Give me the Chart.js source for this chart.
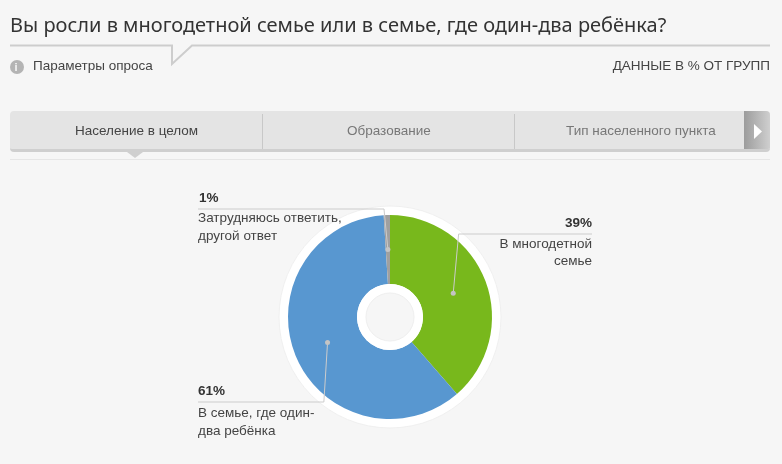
<!DOCTYPE html>
<html lang="ru">
<head>
<meta charset="utf-8">
<title>Опрос</title>
<script src="https://cdn.jsdelivr.net/npm/chart.js@4"></script>
<style>
  html, body { margin: 0; padding: 0; background: #f6f6f6; }
  body { position: relative; width: 782px; height: 464px; overflow: hidden; font-family: "Liberation Sans", Arial, sans-serif; color: #444; }
  #chart { position: absolute; left: 0; top: 0; z-index: 0; }
  .t { position: absolute; z-index: 2; white-space: nowrap; font-size: 13.5px; line-height: 18px; }
  #title { left: 10px; top: 10px; font: 20px/30px "Noto Sans", sans-serif; color: #333; }
  #bar { position: absolute; z-index: 1; left: 10px; top: 111px; width: 760px; height: 38px; background: #e4e4e4; border-bottom: 3px solid #cfcfcf; border-radius: 4px; overflow: hidden; }
  #bar i { position: absolute; top: 3px; bottom: 0; width: 1px; background: #c8c8c8; }
  #next { position: absolute; right: 0; top: 0; bottom: -3px; width: 26px; background: linear-gradient(90deg, #9c9c9c, #cfcfcf); }
  #decor, #decor2 { position: absolute; left: 0; top: 0; z-index: 1; }
  .pct { font-weight: bold; color: #333; }
</style>
</head>
<body>
<svg id="decor" width="782" height="170">
  <path d="M10 45.5H172V64L192 45.5H770" fill="none" stroke="#cdcdcd" stroke-width="2"/>
  <circle cx="17" cy="67" r="7" fill="#b4b4b4"/>
  <rect x="10" y="159" width="760" height="1" fill="#e6e6e6"/>
</svg>
<div id="bar"><i style="left:252px"></i><i style="left:504px"></i><div id="next"></div></div>
<svg id="decor2" width="782" height="170">
  <path d="M127 152H143L135 158Z" fill="#cfcfcf"/>
  <path d="M754 124L762 131.500L754 139Z" fill="#fff"/>
</svg>
<div class="t" id="title">Вы росли в многодетной семье или в семье, где один-два ребёнка?</div>
<div class="t" style="left:14.500px;top:58px;font-size:11px;font-weight:bold;color:#f6f6f6">i</div>
<div class="t" style="left:33px;top:57px">Параметры опроса</div>
<div class="t" style="right:12px;top:57px">ДАННЫЕ В % ОТ ГРУПП</div>
<div class="t" style="left:75px;top:122px;color:#444">Население в целом</div>
<div class="t" style="left:347px;top:122px;color:#777">Образование</div>
<div class="t" style="left:566px;top:122px;color:#777">Тип населенного пункта</div>

<div class="t pct" style="left:199px;top:189px">1%</div>
<div class="t" style="left:198px;top:209px">Затрудняюсь ответить,</div>
<div class="t" style="left:198px;top:227px">другой ответ</div>

<div class="t pct" style="right:190px;top:214px">39%</div>
<div class="t" style="right:190px;top:235px">В многодетной</div>
<div class="t" style="right:190px;top:252px">семье</div>

<div class="t pct" style="left:198px;top:382px">61%</div>
<div class="t" style="left:198px;top:404px">В семье, где один-</div>
<div class="t" style="left:198px;top:422px">два ребёнка</div>

<canvas id="chart" width="782" height="464"></canvas>
<script>
// survey data, order is clockwise from 12 o'clock
const categories = ['В многодетной семье', 'В семье, где один-два ребёнка', 'Затрудняюсь ответить, другой ответ'];
const values = [39, 61, 1];
const colors = ['#78b81c', '#5897d0', '#a0a0a0'];

// leader lines: rule height and far end, relative to the pie centre
const ruleDy = [-83, 85, -108];
const ruleDx = [202, -192, -192];

const ringPlugin = {
  id: 'ring',
  beforeDatasetsDraw(chart) {
    const arc = chart.getDatasetMeta(0).data[0];
    const c = chart.ctx;
    c.save();
    c.beginPath();
    c.arc(arc.x, arc.y, arc.outerRadius + 9, 0, Math.PI * 2);
    c.fillStyle = '#fff';
    c.strokeStyle = '#efefef';
    c.fill();
    c.stroke();
    c.restore();
  },
  afterDatasetsDraw(chart) {
    const meta = chart.getDatasetMeta(0);
    const c = chart.ctx;
    const first = meta.data[0];
    c.save();

    // donut hole
    c.beginPath();
    c.arc(first.x, first.y, first.innerRadius, 0, Math.PI * 2);
    c.fillStyle = '#fff';
    c.fill();
    c.beginPath();
    c.arc(first.x, first.y, first.innerRadius - 9, 0, Math.PI * 2);
    c.fillStyle = '#f6f6f6';
    c.strokeStyle = '#efefef';
    c.fill();
    c.stroke();

    meta.data.forEach((arc, i) => {
      const p = arc.getCenterPoint();
      const r = arc.outerRadius + 5.7;
      const dy = ruleDy[i];
      const dx = Math.sqrt(Math.max(r * r - dy * dy, 36)) * (ruleDx[i] < 0 ? -1 : 1);
      c.beginPath();
      c.moveTo(p.x, p.y);
      c.lineTo(arc.x + dx, arc.y + dy);
      c.lineTo(arc.x + ruleDx[i], arc.y + dy);
      c.strokeStyle = '#cccccc';
      c.lineWidth = 1;
      c.stroke();
      c.beginPath();
      c.arc(p.x, p.y, 2.5, 0, Math.PI * 2);
      c.fillStyle = '#c4c4c4';
      c.fill();
    });
    c.restore();
  }
};

new Chart(document.getElementById('chart'), {
  type: 'doughnut',
  data: {
    labels: categories,
    datasets: [{ data: values, backgroundColor: colors, borderWidth: 0 }]
  },
  options: {
    responsive: false,
    animation: false,
    cutout: 33,
    layout: { padding: { left: 288, right: 290, top: 215, bottom: 45 } },
    plugins: { legend: { display: false }, tooltip: { enabled: false } }
  },
  plugins: [ringPlugin]
});
</script>
</body>
</html>
